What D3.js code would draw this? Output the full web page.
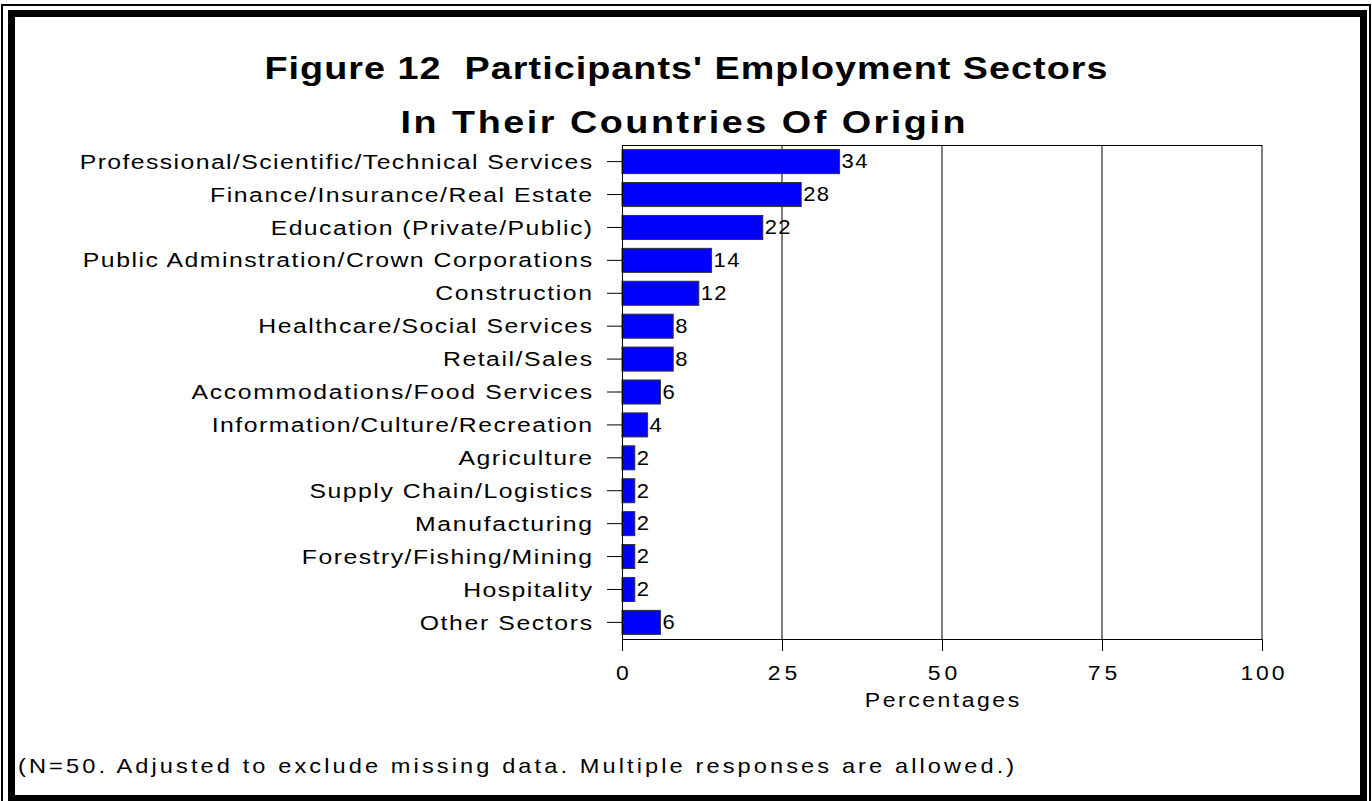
<!DOCTYPE html>
<html>
<head>
<meta charset="utf-8">
<script src="https://cdn.jsdelivr.net/npm/d3@7"></script>
<style>
  body { margin: 0; background: #fff; }
  text { font-family: "Liberation Sans", Arial, sans-serif; }
</style>
</head>
<body>
<div id="chart"></div>
<script>
// data
const sectors = [
    "Professional/Scientific/Technical Services",
    "Finance/Insurance/Real Estate",
    "Education (Private/Public)",
    "Public Adminstration/Crown Corporations",
    "Construction",
    "Healthcare/Social Services",
    "Retail/Sales",
    "Accommodations/Food Services",
    "Information/Culture/Recreation",
    "Agriculture",
    "Supply Chain/Logistics",
    "Manufacturing",
    "Forestry/Fishing/Mining",
    "Hospitality",
    "Other Sectors"
];
const percents = [34, 28, 22, 14, 12, 8, 8, 6, 4, 2, 2, 2, 2, 2, 6];
const xTicks = [0, 25, 50, 75, 100];
const titleLines = ["Figure 12  Participants' Employment Sectors", "In Their Countries Of Origin"];
const note = "(N=50. Adjusted to exclude missing data. Multiple responses are allowed.)";

// the original uses a wide, loosely spaced Arial: stretch the glyphs a bit
// (squash) and spread the rest out with textLength
let widen = function (sel, factor, squash) {
    sel.each(function () {
        let w = this.getComputedTextLength();
        let ax = +this.getAttribute("x") || 0;
        d3.select(this)
            .attr("textLength", w * factor / squash)
            .attr("lengthAdjust", "spacing")
            .attr("transform", "translate(" + ax + ",0) scale(" + squash + ",1) translate(" + (-ax) + ",0)");
    });
};

function drawChart() {
    const W = 1372, H = 801;
    let margin = {top: 145, left: 622, right: 1372 - 1262, bottom: 801 - 639};
    let width = W - margin.left - margin.right;
    let height = H - margin.top - margin.bottom;

    let svg = d3.select("#chart")
        .append("svg")
        .attr("width", W)
        .attr("height", H);

    // double frame
    svg.append("rect")
        .attr("x", 2).attr("y", 5)
        .attr("width", W - 4).attr("height", H)
        .attr("fill", "none").attr("stroke", "#000").attr("stroke-width", 2);
    svg.append("rect")
        .attr("x", 11.5).attr("y", 13.5)
        .attr("width", 1352).attr("height", 785)
        .attr("fill", "none").attr("stroke", "#000").attr("stroke-width", 7);

    // title
    let titleWidths = [843, 565];
    svg.selectAll(".title")
        .data(titleLines)
        .enter()
        .append("text")
        .attr("class", "title")
        .attr("x", (d, i) => i ? 683 : 686)
        .attr("y", (d, i) => 79 + i * 54)
        .attr("text-anchor", "middle")
        .style("font-size", "32px")
        .style("font-weight", "bold")
        .style("white-space", "pre")
        .text(d => d)
        .each(function (d, i) {
            let w = this.getComputedTextLength();
            d3.select(this).call(widen, titleWidths[i] / w, 1.18);
        });

    let g = svg.append("g")
        .attr("transform", "translate(" + margin.left + "," + margin.top + ")");

    let x = d3.scaleLinear().domain([0, 100]).range([0, width]);
    let y = d3.scaleBand().domain(sectors).range([0, height]).paddingInner(0.27).paddingOuter(0.14);

    // gridlines + top border
    g.selectAll(".grid")
        .data(xTicks.slice(1))
        .enter()
        .append("line")
        .attr("x1", d => x(d)).attr("x2", d => x(d))
        .attr("y1", 0).attr("y2", height)
        .attr("stroke", "#000").attr("stroke-width", 1);
    g.append("line")
        .attr("x1", 0).attr("x2", width)
        .attr("y1", 0.5).attr("y2", 0.5)
        .attr("stroke", "#000");

    // bars
    let data = sectors.map((s, i) => ({sector: s, value: percents[i]}));
    g.selectAll(".bar")
        .data(data)
        .enter()
        .append("rect")
        .attr("x", x(0))
        .attr("y", d => y(d.sector))
        .attr("width", d => x(d.value))
        .attr("height", y.bandwidth())
        .attr("fill", "#0000ff")
        .attr("stroke", "#333")
        .attr("stroke-width", 1);

    g.selectAll(".val")
        .data(data)
        .enter()
        .append("text")
        .attr("x", d => x(d.value) + 2)
        .attr("y", d => y(d.sector) + y.bandwidth() / 2)
        .attr("dy", "0.34em")
        .style("font-size", "20px")
        .text(d => d.value)
        .call(widen, 1.16, 1.1);

    // axes
    let yAxis = g.append("g")
        .call(d3.axisLeft(y).tickSize(15).tickPadding(15));
    yAxis.select(".domain").attr("d", "M0.5,0V" + (height + 12));
    yAxis.selectAll("text")
        .style("font-size", "21px").attr("fill", "#000").attr("dy", "0.34em")
        .call(widen, 1.33, 1.18);

    let xAxis = g.append("g")
        .attr("transform", "translate(0," + height + ")")
        .call(d3.axisBottom(x).tickValues(xTicks).tickSize(12));
    xAxis.select(".domain").attr("d", "M0," + 0.5 + "H" + width);
    xAxis.selectAll("text")
        .attr("y", 41).attr("dy", 0)
        .style("font-size", "20.5px").attr("fill", "#000")
        .call(widen, 1.29, 1.12);

    g.append("text")
        .attr("x", x(50))
        .attr("y", height + 68)
        .attr("text-anchor", "middle")
        .style("font-size", "19.5px")
        .text("Percentages")
        .call(widen, 1.41, 1.18);

    svg.append("text")
        .attr("x", 18)
        .attr("y", 773)
        .style("font-size", "20px")
        .text(note)
        .call(widen, 1.52, 1.18);
}
drawChart();
</script>
</body>
</html>
